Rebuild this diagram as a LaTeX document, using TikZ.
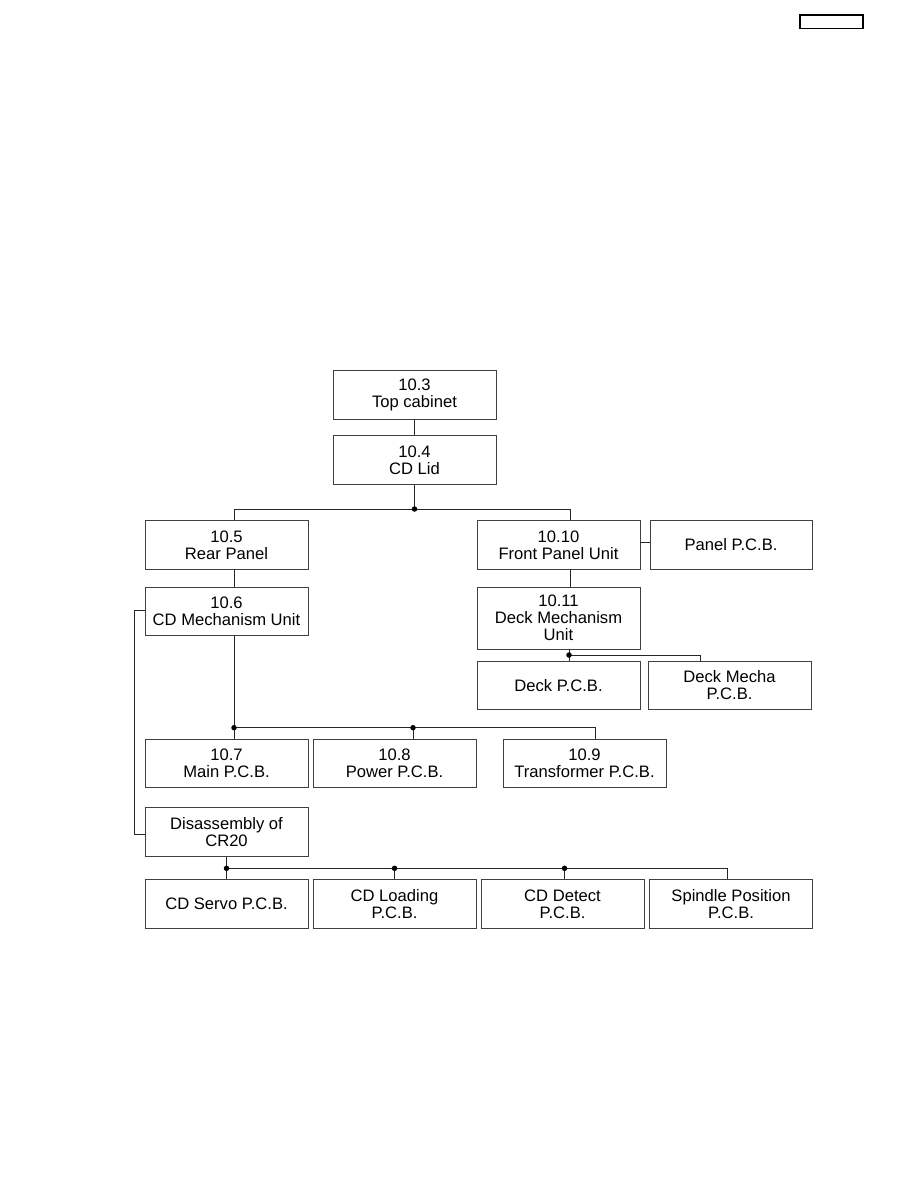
\documentclass[tikz,border=0pt]{standalone}
\usepackage{fontspec}
\setmainfont{Liberation Sans}
\begin{document}
\begin{tikzpicture}[x=1pt,y=-1pt,
  box/.style={draw=black!75, line width=0.8pt, minimum width=163pt, minimum height=48.5pt, inner sep=0pt, align=center, font=\fontsize{16.6}{17}\selectfont},
  conn/.style={draw=black!85, line width=0.8pt},
  jdot/.style={circle, fill=black, inner sep=0pt, minimum size=5.5pt}]
\useasboundingbox (0,0) rectangle (918,1188);
\node[draw, line width=1.3pt, minimum width=63pt, minimum height=13.5pt, inner sep=0pt] (hdr) at (831.5,21.8) {};
\node[box] (top) at (414.5,395) {10.3\\Top cabinet};
\node[box] (lid) at (414.5,460) {10.4\\CD Lid};
\node[box] (rear) at (226.5,545) {10.5\\Rear Panel};
\node[box] (front) at (558.5,545) {10.10\\Front Panel Unit};
\node[box, minimum width=162pt] (panel) at (731,545) {Panel P.C.B.};
\node[box] (cdm) at (226.5,611.5) {10.6\\CD Mechanism Unit};
\node[box, minimum height=62pt] (deckm) at (558.5,618) {10.11\\Deck Mechanism\\Unit};
\node[box] (deckpcb) at (558.5,685.5) {Deck P.C.B.};
\node[box] (deckmecha) at (729.5,685.5) {Deck Mecha\\P.C.B.};
\node[box] (main) at (226.5,763.5) {10.7\\Main P.C.B.};
\node[box] (power) at (394.5,763.5) {10.8\\Power P.C.B.};
\node[box] (trans) at (584.5,763.5) {10.9\\Transformer P.C.B.};
\node[box] (dis) at (226.5,832) {Disassembly of\\CR20};
\node[box] (servo) at (226.5,904) {CD Servo P.C.B.};
\node[box] (loading) at (394.5,904) {CD Loading\\P.C.B.};
\node[box] (detect) at (562.5,904) {CD Detect\\P.C.B.};
\node[box] (spindle) at (731,904) {Spindle Position\\P.C.B.};
% junctions
\coordinate (j1) at (414.5,509);
\coordinate (j3) at (569,655);
\coordinate (j4) at (234,727.7);
\coordinate (j5) at (413,727.7);
\coordinate (j6) at (226.5,868.3);
\coordinate (j7) at (394.5,868.3);
\coordinate (j8) at (564.5,868.3);
\draw[conn] (top.south) -- (lid.north);
\draw[conn] (lid.south) -- (j1);
\draw[conn] (j1) -| ([xshift=7.5pt]rear.north);
\draw[conn] (j1) -| ([xshift=11.5pt]front.north);
\draw[conn] ([xshift=7.5pt]rear.south) -- ([xshift=7.5pt]cdm.north);
\draw[conn] ([xshift=11.5pt]front.south) -- ([xshift=11.5pt]deckm.north);
\draw[conn] ([yshift=3pt]front.east) -- ([yshift=3pt]panel.west);
\draw[conn] ([xshift=10.5pt]deckm.south) -- (j3);
\draw[conn] (j3) -- ([xshift=10.5pt]deckpcb.north);
\draw[conn] (j3) -| ([xshift=-29pt]deckmecha.north);
\draw[conn] ([xshift=7.5pt]cdm.south) -- (j4);
\draw[conn] (j4) -- ([xshift=7.5pt]main.north);
\draw[conn] (j4) -- (j5);
\draw[conn] (j5) -- ([xshift=18.5pt]power.north);
\draw[conn] (j5) -| ([xshift=10.5pt]trans.north);
\draw[conn] ([yshift=1pt]cdm.west) -- ++(-10pt,0) |- ([yshift=-2pt]dis.west);
\draw[conn] (dis.south) -- (j6);
\draw[conn] (j6) -- (servo.north);
\draw[conn] (j6) -- (j7);
\draw[conn] (j7) -- (loading.north);
\draw[conn] (j7) -- (j8);
\draw[conn] (j8) -- ([xshift=2pt]detect.north);
\draw[conn] (j8) -| ([xshift=-4pt]spindle.north);
\foreach \j in {j1,j3,j4,j5,j6,j7,j8} \node[jdot] at (\j) {};
\end{tikzpicture}
\end{document}
